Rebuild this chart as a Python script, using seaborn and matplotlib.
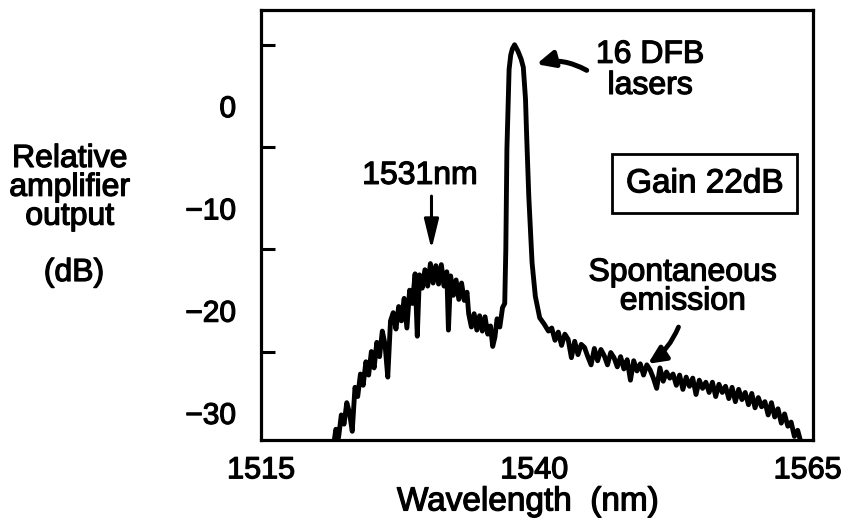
import matplotlib
matplotlib.use('Agg')
import matplotlib.pyplot as plt
import matplotlib.patheffects as pe
from matplotlib.text import Text
import seaborn as sns
import pandas as pd

# amplifier output spectrum: wavelength (nm) / output (dB)
rise_nm = [1521.6, 1521.85, 1522.1, 1522.35, 1522.6, 1522.85, 1523.1, 1523.35, 1523.6, 1523.85,
           1524.1, 1524.35, 1524.6, 1524.85, 1525.1, 1525.35, 1525.6, 1525.85, 1526.1, 1526.35,
           1526.6, 1526.85, 1527.1, 1527.35, 1527.6, 1527.85, 1528.1, 1528.35, 1528.6, 1528.85,
           1529.1, 1529.3, 1529.5, 1529.75, 1530.0, 1530.25, 1530.5, 1530.75, 1531.0, 1531.25,
           1531.5, 1531.75, 1532.0, 1532.15, 1532.35, 1532.6, 1532.85, 1533.1, 1533.35, 1533.6,
           1533.85, 1534.0, 1534.25, 1534.5, 1534.75, 1535.0, 1535.25, 1535.5, 1535.75, 1536.0,
           1536.2, 1536.4, 1536.6, 1536.85, 1537.1, 1537.3]
rise_db = [-33.5, -31.6, -32.4, -30.2, -31.1, -29.0, -30.0, -31.8, -27.5, -28.4,
           -26.2, -27.3, -25.0, -26.3, -24.0, -25.6, -23.1, -24.5, -22.0, -23.3,
           -26.5, -21.0, -20.2, -21.8, -19.6, -21.0, -18.8, -21.7, -18.0, -19.3,
           -16.4, -22.5, -16.5, -17.8, -16.0, -17.6, -15.4, -17.3, -15.6, -17.4,
           -15.5, -17.6, -16.2, -21.9, -16.6, -18.5, -17.0, -18.9, -17.3, -19.0,
           -18.2, -20.3, -21.6, -20.3, -21.9, -20.5, -22.0, -20.6, -22.3, -21.5,
           -23.5, -22.6, -20.8, -21.6, -19.7, -19.3]

peak_nm = [1537.4, 1537.5, 1537.7, 1537.85, 1538.0, 1538.2, 1538.5, 1538.8, 1539.0, 1539.2,
           1539.3, 1539.5, 1539.7, 1539.8, 1540.1, 1540.5, 1540.9, 1541.3]
peak_db = [-14.0, -4.2, 3.6, 5.0, 5.6, 6.0, 5.4, 4.6, 3.8, 0.7,
           -2.7, -8.8, -13.0, -15.3, -18.6, -20.7, -21.3, -22.0]

tail_nm = [1541.6, 1541.9, 1542.2, 1542.5, 1542.8, 1543.1, 1543.4, 1543.7, 1544.0, 1544.3,
           1544.6, 1544.9, 1545.2, 1545.5, 1545.8, 1546.1, 1546.4, 1546.7, 1547.0, 1547.3,
           1547.6, 1547.9, 1548.2, 1548.5, 1548.8, 1549.1, 1549.4, 1549.7, 1550.0, 1550.3,
           1550.6, 1550.9, 1551.2, 1551.5, 1551.8, 1552.1, 1552.4, 1552.7, 1553.0, 1553.3,
           1553.6, 1553.9, 1554.2, 1554.5, 1554.8, 1555.1, 1555.4, 1555.7, 1556.0, 1556.3,
           1556.6, 1556.9, 1557.2, 1557.5, 1557.8, 1558.1, 1558.4, 1558.7, 1559.0, 1559.3,
           1559.6, 1559.9, 1560.2, 1560.5, 1560.8, 1561.1, 1561.4, 1561.7, 1562.0, 1562.3,
           1562.6, 1562.9, 1563.2, 1563.5, 1563.8, 1564.1, 1564.4, 1564.7]
tail_db = [-21.7, -22.9, -22.1, -23.4, -22.3, -22.8, -24.6, -23.0, -24.3, -23.3,
           -23.6, -24.5, -25.3, -23.7, -24.9, -23.8, -24.4, -25.3, -24.1, -24.6,
           -25.5, -24.5, -25.7, -24.8, -26.8, -24.9, -25.9, -25.2, -26.3, -25.3,
           -25.8, -26.6, -27.6, -25.6, -26.9, -26.0, -26.6, -26.2, -27.3, -26.3,
           -27.7, -26.5, -27.4, -26.6, -28.2, -26.8, -27.6, -27.0, -28.0, -27.0,
           -28.4, -27.2, -28.0, -27.4, -28.6, -27.5, -28.9, -27.7, -28.7, -28.0,
           -29.2, -28.1, -29.5, -28.5, -29.4, -28.9, -30.2, -29.0, -30.4, -29.6,
           -31.0, -30.1, -31.3, -30.9, -32.3, -31.7, -32.9, -33.6]

x_ticks = [1515, 1540, 1565]
y_ticks = [0, -10, -20, -30]
# the tick marks on the original y axis sit off the labelled values
y_marks = [6, -4, -14, -24]


def build_frame():
    df = pd.DataFrame({
        'Wavelength': rise_nm + peak_nm + tail_nm,
        'Output': rise_db + peak_db + tail_db,
    })
    return df


def arrow(ax, tip, tail, head, lw, scale, rad=0.0):
    ax.annotate('', xy=tip, xytext=tail,
                arrowprops=dict(arrowstyle=head, lw=lw, color='black',
                                mutation_scale=scale, capstyle='round',
                                connectionstyle=f'arc3,rad={rad}',
                                shrinkA=0, shrinkB=0))


def draw(df):
    sns.set_style('ticks')
    plt.rcParams['font.family'] = ['Liberation Sans', 'DejaVu Sans']
    plt.rcParams['text.color'] = 'black'
    plt.rcParams['axes.labelcolor'] = 'black'
    plt.rcParams['xtick.color'] = 'black'
    plt.rcParams['ytick.color'] = 'black'

    fig = plt.figure(figsize=(8.52, 5.26), dpi=100)
    ax = fig.add_axes([0.3063, 0.1635, 0.6479, 0.8175])
    sns.lineplot(data=df, x='Wavelength', y='Output', ax=ax, color='black',
                 linewidth=3.5, sort=False, estimator=None)

    ax.set_xlim(1515, 1565.5)
    ax.set_ylim(-32.65, 9.4)
    for side in ['left', 'right', 'top', 'bottom']:
        ax.spines[side].set_linewidth(2.3)
        ax.spines[side].set_color('black')

    ax.set_xticks(x_ticks)
    ax.set_xticklabels([str(v) for v in x_ticks])
    ax.set_xticks([1540], minor=True)
    ax.set_yticks(y_ticks)
    ax.set_yticklabels(['0', '\u221210', '\u221220', '\u221230'])
    ax.set_yticks(y_marks, minor=True)
    ax.tick_params(axis='x', which='major', length=0, pad=11, labelsize=22)
    ax.tick_params(axis='y', which='major', length=0, pad=18, labelsize=21.5)
    ax.tick_params(axis='x', which='minor', direction='in', length=14, width=2.2)
    ax.tick_params(axis='y', which='minor', direction='in', length=10, width=2.2)

    ax.set_xlabel('Wavelength  (nm)', fontsize=24)
    ax.xaxis.set_label_coords(0.484, -0.108)
    ax.set_ylabel('')
    fig.text(0.082, 0.643, 'Relative\namplifier\noutput', fontsize=23, ha='center',
             va='center', linespacing=0.95)
    fig.text(0.087, 0.481, '(dB)', fontsize=23, ha='center', va='center')

    # 1531 nm marker
    arrow(ax, (1530.6, -14.0), (1530.6, -8.8), '-|>,head_length=0.9,head_width=0.22', 2.2, 20)
    ax.text(1529.55, -7.6, '1531nm', fontsize=23, ha='center', va='baseline')

    # laser peak
    ax.text(1550.6, 3.5, '16 DFB\nlasers', fontsize=23, ha='center', va='center',
            linespacing=1.05)
    arrow(ax, (1540.2, 4.1), (1544.8, 3.5), '-|>,head_length=0.75,head_width=0.35',
          3.6, 14, rad=0.2)

    ax.text(1555.6, -7.6, 'Gain 22dB', fontsize=24, ha='center', va='center',
            bbox=dict(boxstyle='square,pad=0.42', fc='white', ec='black', lw=2))

    # spontaneous emission
    ax.text(1553.6, -17.7, 'Spontaneous\nemission', fontsize=23, ha='center',
            va='center', linespacing=0.95)
    arrow(ax, (1550.4, -25.2), (1553.2, -21.6), '-|>,head_length=0.75,head_width=0.35',
          3.4, 14, rad=-0.15)

    # the scanned lettering is heavier than the plain face
    for t in fig.findobj(Text):
        t.set_path_effects([pe.withStroke(linewidth=0.9, foreground='black')])
    return fig


def main():
    df = build_frame()
    fig = draw(df)
    fig.savefig('out.png', dpi=100)
    plt.close(fig)


if __name__ == '__main__':
    main()
